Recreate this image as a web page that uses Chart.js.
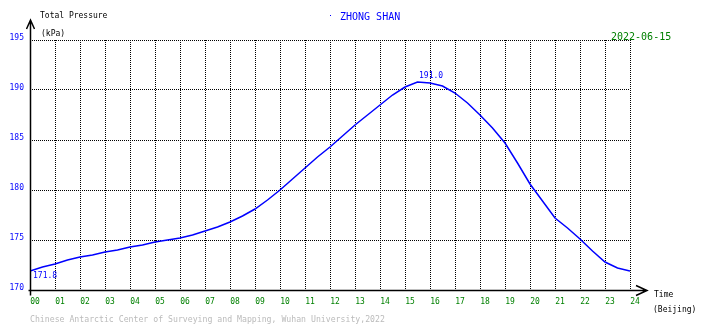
<!DOCTYPE html>
<html>
<head>
  <meta charset="UTF-8">
  <title>ZHONG SHAN Total Pressure</title>
  <script src="https://cdn.jsdelivr.net/npm/chart.js"></script>
  <style>
    html, body {
      margin: 0;
      padding: 0;
      background: #fff;
    }
    #grafica {
      display: block;
    }
  </style>
</head>
<body>
  <canvas id="grafica" width="710" height="328"></canvas>

  <script>
    const horas = [0, 0.5, 1, 1.5, 2, 2.5, 3, 3.5, 4, 4.5, 5, 5.5, 6, 6.5, 7, 7.5, 8, 8.5,
      9, 9.5, 10, 10.5, 11, 11.5, 12, 12.5, 13, 13.5, 14, 14.5, 15, 15.5, 16, 16.5,
      17, 17.5, 18, 18.5, 19, 19.5, 20, 20.5, 21, 21.5, 22, 22.5, 23, 23.5, 24];
    const presion = [171.9, 172.3, 172.6, 173.0, 173.3, 173.5, 173.8, 174.0, 174.3, 174.5,
      174.8, 175.0, 175.2, 175.5, 175.9, 176.3, 176.8, 177.4, 178.1, 179.0, 180.0, 181.1,
      182.2, 183.3, 184.3, 185.4, 186.5, 187.5, 188.5, 189.5, 190.3, 190.8, 190.7, 190.4,
      189.7, 188.7, 187.5, 186.2, 184.7, 182.7, 180.6, 178.9, 177.2, 176.2, 175.1, 173.9,
      172.8, 172.2, 171.9];
    // Minimo y maximo marcados en el grafico
    const minimo = { hora: 0, valor: 171.8 };
    const maximo = { hora: 15.6, valor: 191.0 };
    const ticksY = [170, 175, 180, 185, 190, 195];

    const mono = '"DejaVu Sans Mono", "Liberation Mono", monospace';

    // Ejes con flechas, titulos y etiquetas de min/max
    const decoracion = {
      id: 'decoracion',
      afterDraw(chart) {
        const c = chart.ctx;
        const a = chart.chartArea;
        const sx = chart.scales.x;
        const sy = chart.scales.y;
        const x0 = Math.round(a.left) + 0.5;
        const y0 = Math.round(a.bottom) + 0.5;

        c.save();
        c.strokeStyle = '#000';
        c.lineWidth = 1.5;
        c.beginPath();
        // eje Y con flecha
        c.moveTo(x0, y0 + 5);
        c.lineTo(x0, 20);
        c.moveTo(x0 - 4, 29);
        c.lineTo(x0, 20);
        c.lineTo(x0 + 4, 29);
        // eje X con flecha
        c.moveTo(x0 - 2, y0);
        c.lineTo(647, y0);
        c.moveTo(636, y0 - 5);
        c.lineTo(647, y0);
        c.lineTo(636, y0 + 5);
        c.stroke();

        c.textBaseline = 'middle';
        c.textAlign = 'left';
        c.fillStyle = '#000';
        c.font = '8px ' + mono;
        c.fillText('Total Pressure', 40, 16);
        c.fillText('(kPa)', 41, 34);
        c.fillText('Time', 654, 295);
        c.fillText('(Beijing)', 653, 310);

        c.fillStyle = '#0000ff';
        c.font = '10px ' + mono;
        c.fillText('ZHONG SHAN', 340, 17);
        c.fillRect(330, 15, 1, 1);

        c.fillStyle = '#008000';
        c.fillText('2022-06-15', 611, 37);

        c.fillStyle = '#bbbbbb';
        c.font = '8.2px ' + mono;
        c.fillText('Chinese Antarctic Center of Surveying and Mapping, Wuhan University,2022', 30, 320);

        c.fillStyle = '#0000ff';
        c.font = '8px ' + mono;
        c.fillText(minimo.valor.toFixed(1), sx.getPixelForValue(minimo.hora) + 3, sy.getPixelForValue(minimo.valor) + 4);
        c.fillText(maximo.valor.toFixed(1), sx.getPixelForValue(maximo.hora) - 1, sy.getPixelForValue(maximo.valor) - 4);
        c.restore();
      }
    };

    const ctx = document.getElementById('grafica').getContext('2d');
    const grafica = new Chart(ctx, {
      type: 'line',
      data: {
        datasets: [{
          data: horas.map((h, i) => ({ x: h, y: presion[i] })),
          borderColor: '#0000ff',
          borderWidth: 1.5,
          pointRadius: 0,
          tension: 0,
          fill: false
        }]
      },
      options: {
        responsive: false,
        animation: false,
        layout: {
          padding: { top: 40, right: 80, left: 0, bottom: 0 }
        },
        scales: {
          x: {
            type: 'linear',
            min: 0,
            max: 24,
            afterFit(scale) { scale.height = 38; },
            grid: { color: '#000', lineWidth: 1, drawTicks: false },
            border: { display: false, dash: [1, 1] },
            ticks: {
              stepSize: 1,
              autoSkip: false,
              maxRotation: 0,
              padding: 7,
              labelOffset: 5,
              color: '#008000',
              font: { family: mono, size: 8 },
              callback: (v) => String(v).padStart(2, '0')
            }
          },
          y: {
            min: 170,
            max: 195,
            afterFit(scale) { scale.width = 30; },
            afterBuildTicks(scale) { scale.ticks = ticksY.map(v => ({ value: v })); },
            grid: { color: '#000', lineWidth: 1, drawTicks: false },
            border: { display: false, dash: [1, 1] },
            ticks: {
              padding: 6,
              labelOffset: -2,
              color: '#0000ff',
              font: { family: mono, size: 8 }
            }
          }
        },
        plugins: {
          legend: { display: false },
          tooltip: { enabled: false }
        }
      },
      plugins: [decoracion]
    });
  </script>
</body>
</html>
